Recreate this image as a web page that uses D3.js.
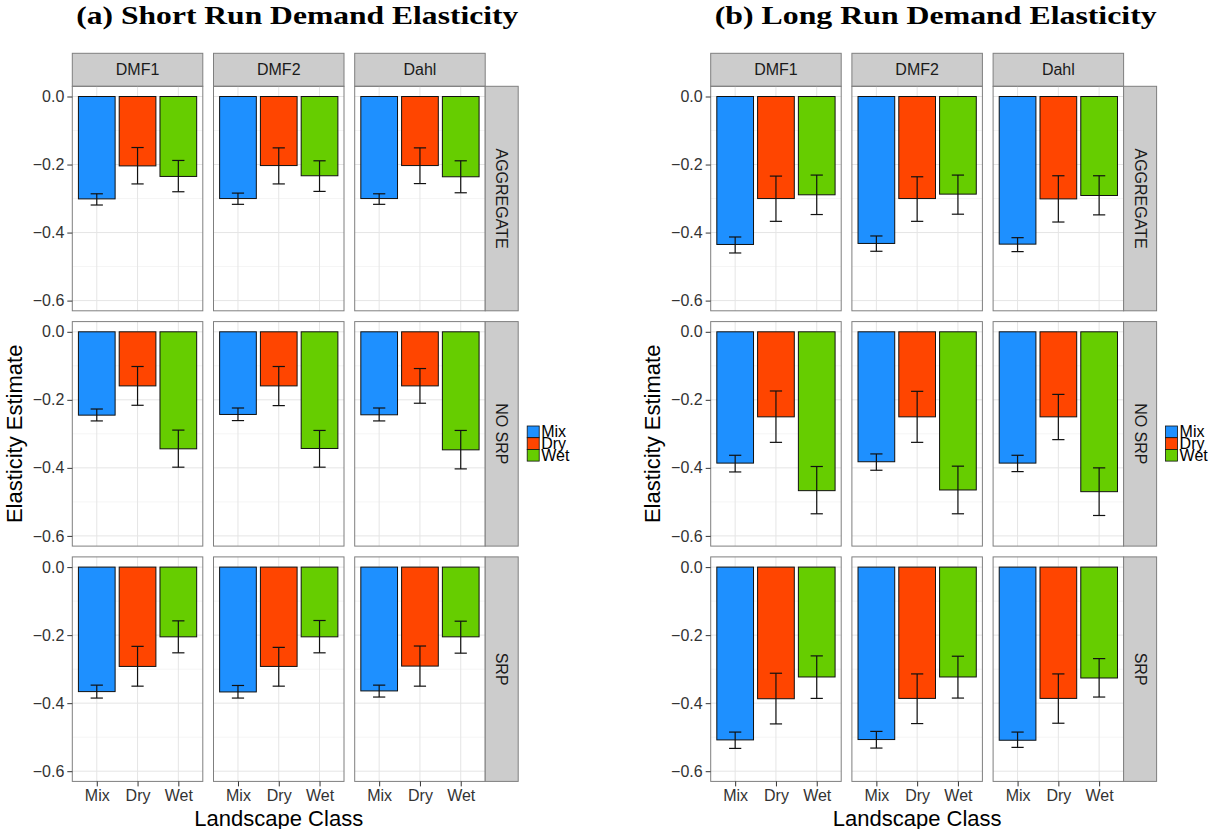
<!DOCTYPE html>
<html>
<head>
<meta charset="utf-8">
<script src="https://cdn.jsdelivr.net/npm/d3@7"></script>
<style>
  body { margin: 0; background: #fff; }
  svg { display: block; font-family: "Liberation Sans", Arial, sans-serif; }
  .grid-major { stroke: #e5e5e5; stroke-width: 1; }
  .grid-minor { stroke: #f5f5f5; stroke-width: 1; }
  .panel-border { fill: none; stroke: #7f7f7f; stroke-width: 1; }
  .strip { fill: #cccccc; stroke: #7f7f7f; stroke-width: 1; }
  .strip-text { font-size: 16px; fill: #1a1a1a; }
  .tick-text { font-size: 16px; fill: #333; }
  .axis-title { font-size: 22px; fill: #000; }
  .chart-title { font-family: "Liberation Serif", "DejaVu Serif", serif; font-weight: bold; font-size: 25px; fill: #000; }
</style>
</head>
<body>
<svg width="1209" height="829"></svg>
<script>
const classes = ["Mix", "Dry", "Wet"];
const methods = ["DMF1", "DMF2", "Dahl"];
const groups = ["AGGREGATE", "NO SRP", "SRP"];
const colors = ["#1e90ff", "#ff4500", "#66cd00"];
const yTicks = [0, -0.2, -0.4, -0.6];
const yMinor = [-0.1, -0.3, -0.5];

// [estimate, lower, upper] for Mix, Dry, Wet; one row per method (DMF1, DMF2, Dahl)
const shortAggregate = [
  [[-0.301, -0.319, -0.286], [-0.204, -0.257, -0.150], [-0.235, -0.280, -0.188]],
  [[-0.300, -0.317, -0.284], [-0.203, -0.257, -0.151], [-0.233, -0.279, -0.189]],
  [[-0.300, -0.317, -0.286], [-0.203, -0.256, -0.151], [-0.236, -0.283, -0.189]]
];
const shortNoSrp = [
  [[-0.245, -0.262, -0.227], [-0.159, -0.216, -0.102], [-0.344, -0.398, -0.289]],
  [[-0.243, -0.261, -0.224], [-0.159, -0.217, -0.102], [-0.343, -0.398, -0.290]],
  [[-0.244, -0.262, -0.224], [-0.159, -0.210, -0.108], [-0.347, -0.403, -0.290]]
];
const shortSrp = [
  [[-0.366, -0.385, -0.347], [-0.292, -0.350, -0.233], [-0.205, -0.252, -0.158]],
  [[-0.367, -0.385, -0.348], [-0.292, -0.350, -0.236], [-0.205, -0.252, -0.157]],
  [[-0.364, -0.382, -0.347], [-0.291, -0.350, -0.232], [-0.205, -0.253, -0.159]]
];
const longAggregate = [
  [[-0.435, -0.460, -0.413], [-0.300, -0.367, -0.234], [-0.289, -0.347, -0.231]],
  [[-0.432, -0.455, -0.410], [-0.300, -0.367, -0.236], [-0.287, -0.346, -0.231]],
  [[-0.434, -0.456, -0.415], [-0.301, -0.369, -0.233], [-0.291, -0.348, -0.233]]
];
const longNoSrp = [
  [[-0.386, -0.412, -0.363], [-0.250, -0.325, -0.174], [-0.467, -0.535, -0.396]],
  [[-0.382, -0.407, -0.359], [-0.250, -0.325, -0.175], [-0.465, -0.535, -0.395]],
  [[-0.386, -0.411, -0.363], [-0.250, -0.317, -0.184], [-0.470, -0.540, -0.400]]
];
const longSrp = [
  [[-0.508, -0.533, -0.485], [-0.387, -0.461, -0.312], [-0.323, -0.386, -0.261]],
  [[-0.507, -0.532, -0.483], [-0.386, -0.460, -0.314], [-0.323, -0.385, -0.262]],
  [[-0.509, -0.530, -0.485], [-0.386, -0.459, -0.314], [-0.326, -0.382, -0.269]]
];

const svg = d3.select("svg");

function drawChart(ox, title, rows) {
  const panelW = 130.5, colStep = 141.2;
  const panelH = 224.5, rowStep = 235.3;
  const top = 86.3, stripH = 33, stripW = 33;
  const g = svg.append("g");

  // title
  g.append("text")
    .attr("class", "chart-title")
    .attr("x", ox + 4)
    .attr("y", 24)
    .attr("textLength", 442)
    .attr("lengthAdjust", "spacingAndGlyphs")
    .text(title);

  const x = d3.scalePoint().domain(classes).range([0, panelW]).padding(0.6);
  const step = x.step();

  methods.forEach((m, ci) => {
    const px = ox + ci * colStep;
    // top strip
    g.append("rect").attr("class", "strip")
      .attr("x", px).attr("y", top - stripH).attr("width", panelW).attr("height", stripH);
    g.append("text").attr("class", "strip-text")
      .attr("x", px + panelW / 2).attr("y", top - stripH / 2)
      .attr("text-anchor", "middle").attr("dominant-baseline", "central")
      .text(m);

    groups.forEach((grp, ri) => {
      const py = top + ri * rowStep;
      const y = d3.scaleLinear().domain([-0.63, 0.03]).range([py + panelH, py]);
      const pg = g.append("g").attr("transform", `translate(${px},0)`);

      pg.selectAll(".grid-minor").data(yMinor).join("line")
        .attr("class", "grid-minor")
        .attr("x1", 0).attr("x2", panelW)
        .attr("y1", d => y(d)).attr("y2", d => y(d));
      pg.selectAll(".grid-major-y").data(yTicks).join("line")
        .attr("class", "grid-major grid-major-y")
        .attr("x1", 0).attr("x2", panelW)
        .attr("y1", d => y(d)).attr("y2", d => y(d));
      pg.selectAll(".grid-major-x").data(classes).join("line")
        .attr("class", "grid-major grid-major-x")
        .attr("x1", d => x(d)).attr("x2", d => x(d))
        .attr("y1", py).attr("y2", py + panelH);

      const vals = rows[ri][ci];
      // bars
      pg.selectAll(".bar").data(vals).join("rect")
        .attr("class", "bar")
        .attr("x", (d, i) => x(classes[i]) - 0.45 * step)
        .attr("width", 0.9 * step)
        .attr("y", d => y(0))
        .attr("height", d => y(d[0]) - y(0))
        .attr("fill", (d, i) => colors[i])
        .attr("stroke", "#111").attr("stroke-width", 1);
      // error bars
      const eb = pg.selectAll(".err").data(vals).join("g").attr("class", "err")
        .attr("stroke", "#111").attr("stroke-width", 1.2);
      eb.append("line")
        .attr("x1", (d, i) => x(classes[i])).attr("x2", (d, i) => x(classes[i]))
        .attr("y1", d => y(d[1])).attr("y2", d => y(d[2]));
      eb.append("line")
        .attr("x1", (d, i) => x(classes[i]) - 0.15 * step).attr("x2", (d, i) => x(classes[i]) + 0.15 * step)
        .attr("y1", d => y(d[1])).attr("y2", d => y(d[1]));
      eb.append("line")
        .attr("x1", (d, i) => x(classes[i]) - 0.15 * step).attr("x2", (d, i) => x(classes[i]) + 0.15 * step)
        .attr("y1", d => y(d[2])).attr("y2", d => y(d[2]));

      pg.append("rect").attr("class", "panel-border")
        .attr("x", 0).attr("y", py).attr("width", panelW).attr("height", panelH);

      // y axis on first column
      if (ci === 0) {
        const yAxis = d3.axisLeft(y).tickValues(yTicks).tickFormat(d3.format(".1f")).tickSize(5).tickPadding(3);
        const ya = pg.append("g").call(yAxis);
        ya.select(".domain").remove();
        ya.selectAll(".tick line").attr("stroke", "#333");
        ya.selectAll(".tick text").attr("class", "tick-text").attr("font-size", null).attr("font-family", null).attr("fill", null);
      }
      // x axis on last row
      if (ri === groups.length - 1) {
        const xAxis = d3.axisBottom(x).tickSize(5).tickPadding(3);
        const xa = pg.append("g").attr("transform", `translate(0,${py + panelH})`).call(xAxis);
        xa.select(".domain").remove();
        xa.selectAll(".tick line").attr("stroke", "#333");
        xa.selectAll(".tick text").attr("class", "tick-text").attr("font-size", null).attr("font-family", null).attr("fill", null);
      }
      // right strip on last column
      if (ci === methods.length - 1) {
        const sx = px + panelW;
        g.append("rect").attr("class", "strip")
          .attr("x", sx).attr("y", py).attr("width", stripW).attr("height", panelH);
        g.append("text").attr("class", "strip-text")
          .attr("transform", `translate(${sx + stripW / 2},${py + panelH / 2}) rotate(90)`)
          .attr("text-anchor", "middle").attr("dominant-baseline", "central")
          .text(grp);
      }
    });
  });

  const panelsRight = ox + 2 * colStep + panelW;
  // axis titles
  g.append("text").attr("class", "axis-title")
    .attr("x", (ox + panelsRight) / 2).attr("y", 826)
    .attr("text-anchor", "middle").text("Landscape Class");
  g.append("text").attr("class", "axis-title")
    .attr("transform", `translate(${ox - 58},${top + (2 * rowStep + panelH) / 2}) rotate(-90)`)
    .attr("text-anchor", "middle").attr("dominant-baseline", "central")
    .text("Elasticity Estimate");

  // legend (labels overlap slightly, as in the original)
  const lx = panelsRight + stripW + 9, ly = 426, keyH = 11.7;
  const leg = g.append("g");
  classes.forEach((c, i) => {
    leg.append("rect")
      .attr("x", lx).attr("y", ly + i * keyH).attr("width", 12).attr("height", keyH)
      .attr("fill", colors[i]).attr("stroke", "#111").attr("stroke-width", 0.8);
    leg.append("text")
      .attr("x", lx + 14).attr("y", ly + i * keyH + keyH - 0.5)
      .attr("font-size", 16).attr("fill", "#000").text(c);
  });
}

drawChart(72.3, "(a) Short Run Demand Elasticity", [shortAggregate, shortNoSrp, shortSrp]);
drawChart(710.7, "(b) Long Run Demand Elasticity", [longAggregate, longNoSrp, longSrp]);
</script>
</body>
</html>
